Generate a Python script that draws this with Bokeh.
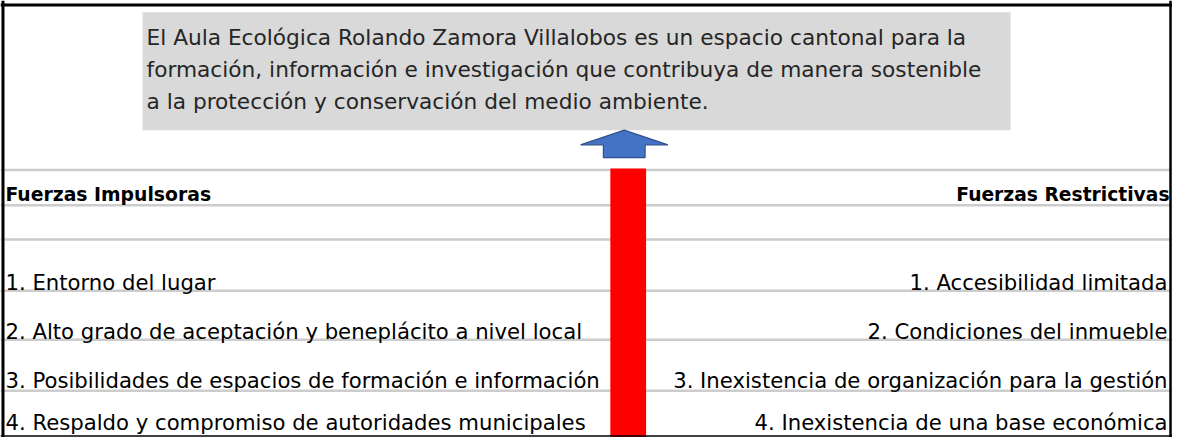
from bokeh.plotting import figure
from bokeh.models import ColumnDataSource, Range1d
from bokeh.core.properties import value
from bokeh.embed import file_html
from bokeh.resources import INLINE

# ---- data (texts) ----
statement_lines = [
    "El Aula Ecológica Rolando Zamora Villalobos es un espacio cantonal para la",
    "formación, información e investigación que contribuya de manera sostenible",
    "a la protección y conservación del medio ambiente.",
]
header_left = "Fuerzas Impulsoras"
header_right = "Fuerzas Restrictivas"
driving_forces = [
    "1. Entorno del lugar",
    "2. Alto grado de aceptación y beneplácito a nivel local",
    "3. Posibilidades de espacios de formación e información",
    "4. Respaldo y compromiso de autoridades municipales",
]
restraining_forces = [
    "1. Accesibilidad limitada",
    "2. Condiciones del inmueble",
    "3. Inexistencia de organización para la gestión",
    "4. Inexistencia de una base económica",
]

# ---- layout (reference pixel coordinates, y downward) ----
W, H = 1180, 445
FONT = "DejaVu Sans"
FS = "21.2px"
p = figure(width=1172, height=437, output_backend="svg", toolbar_location=None,
           x_range=Range1d(0, W), y_range=Range1d(H, 0), min_border=0)
p.axis.visible = False
p.grid.visible = False
p.outline_line_color = None
p.background_fill_color = "white"

# grey statement box
p.quad(left=[143], right=[1017], top=[12], bottom=[132], fill_color="#d9d9d9", line_color=None)
stmt_src = ColumnDataSource(dict(x=[147] * len(statement_lines),
                                 y=[38 + 32.5 * i for i in range(len(statement_lines))],
                                 t=statement_lines))
p.text(x="x", y="y", text="t", source=stmt_src, text_font=value(FONT), text_font_size="21.7px",
       text_color="#262626", text_baseline="alphabetic", text_align="left")

# horizontal grid rules
row_lines = [172.5, 208.5, 243.5, 295.5, 345.5, 397.5]
p.segment(x0=[0] * len(row_lines), x1=[W] * len(row_lines), y0=row_lines, y1=row_lines,
          line_color="#cccccc", line_width=2.5)

# central red bar
bar_cx = 632
p.quad(left=[bar_cx - 18], right=[bar_cx + 18], top=[171], bottom=[H], fill_color="#ff0000", line_color=None)

# blue up arrow
ac = 628
arrow_x = [ac, ac + 44, ac + 21, ac + 21, ac - 21, ac - 21, ac - 44]
arrow_y = [132, 147, 147, 160, 160, 147, 147]
p.patch(arrow_x, arrow_y, fill_color="#4472c4", line_color="#2f528f", line_width=1.2)

# headers
p.text(x=[5], y=[198], text=[header_left], text_font=value(FONT), text_font_size="18.8px",
       text_font_style="bold", text_color="black", text_baseline="alphabetic", text_align="left")
p.text(x=[1177], y=[198], text=[header_right], text_font=value(FONT), text_font_size="18.7px",
       text_font_style="bold", text_color="black", text_baseline="alphabetic", text_align="right")

# forces
row_base = [287, 337, 387, 430]
left_src = ColumnDataSource(dict(x=[5] * len(driving_forces), y=row_base[:len(driving_forces)], t=driving_forces))
p.text(x="x", y="y", text="t", source=left_src, text_font=value(FONT), text_font_size=FS,
       text_color="black", text_baseline="alphabetic", text_align="left")
right_src = ColumnDataSource(dict(x=[1175] * len(restraining_forces), y=row_base[:len(restraining_forces)], t=restraining_forces))
p.text(x="x", y="y", text="t", source=right_src, text_font=value(FONT), text_font_size=FS,
       text_color="black", text_baseline="alphabetic", text_align="right")

# outer frame
p.segment(x0=[0, 2.5, 1178, 0], x1=[W, 2.5, 1178, W], y0=[4.5, 0, 0, 443.5], y1=[4.5, H, H, 443.5],
          line_color="black", line_width=[3, 3, 2.5, 1.5])

open("out.html", "w").write(file_html(p, INLINE))
